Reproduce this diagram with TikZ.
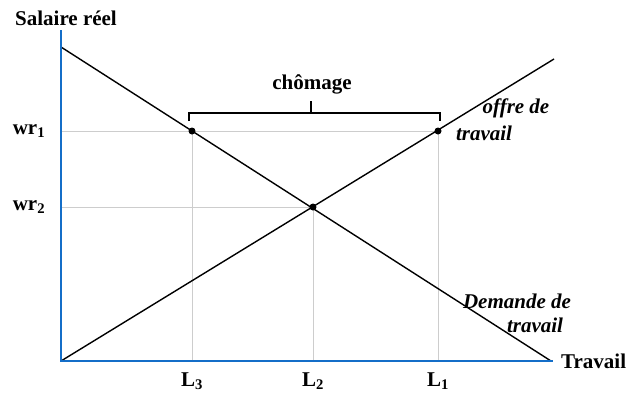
\documentclass[tikz,border=0pt]{standalone}
\usepackage{fontspec}
\setmainfont{Liberation Serif}

\definecolor{axisblue}{RGB}{20,110,200}
\definecolor{gridgray}{RGB}{205,205,205}

\tikzset{
    axisline/.style={draw=axisblue, line width=2.6pt},
    curveline/.style={draw=black, line width=1.4pt},
    guideline/.style={draw=gridgray, line width=0.9pt},
    bracketline/.style={draw=black, line width=1.9pt},
    lbl/.style={font=\fontsize{21}{23}\selectfont\bfseries, inner sep=0pt},
    curvelbl/.style={font=\fontsize{21}{23}\selectfont\bfseries\itshape, inner sep=0pt},
    dot/.style={circle, fill=black, inner sep=0pt, minimum size=7pt},
}

\begin{document}
\begin{tikzpicture}[x=1pt, y=-1pt]
        \useasboundingbox (0,0) rectangle (627,392);

        % Define the axes
        \coordinate (origin) at (61,361);
        \coordinate (ytop) at (61,30);
        \coordinate (xend) at (553,361);

        % Define the two curves
        \coordinate (dtop) at (61,47);
        \coordinate (dbot) at (551,361);
        \coordinate (sbot) at (61,361);
        \coordinate (stop) at (554,59);

        % Define the points on the curves and on the wage axis
        \coordinate (c3) at (192,131);
        \coordinate (c2) at (313,207);
        \coordinate (c1) at (438,131);
        \coordinate (wr1) at (61,131);
        \coordinate (wr2) at (61,207);

        % Guide lines
        \draw[guideline] (wr1) -- (c1);
        \draw[guideline] (wr2) -- (c2);
        \foreach \p in {c1, c2, c3} {
            \draw[guideline] (\p) -- (\p |- origin);
        }

        % Draw the demand and supply curves
        \draw[curveline] (dtop) -- (dbot);
        \draw[curveline] (sbot) -- (stop);

        % Draw the axes
        \draw[axisline] (ytop) -- (origin) -- (xend);

        % Dots
        \foreach \p in {c1, c2, c3} {
            \node[dot] (dot-\p) at (\p) {};
        }

        % Bracket for unemployment
        \coordinate (br-l) at (189,121);
        \coordinate (br-r) at (440,121);
        \coordinate (br-m) at (311,113);
        \draw[bracketline] (br-l) -- ++(0,-8) -| (br-r);
        \draw[bracketline] (br-m) -- ++(0,-12);
        \node[lbl] (chomage) at (312,84) {chômage};

        % Axis labels
        \node[lbl] (salaire) at (66,18) {Salaire réel};
        \node[lbl, anchor=west] (travail) at (561,361) {Travail};
        \node[lbl] (wr1-lbl) at (29,131) {wr\textsubscript{1}};
        \node[lbl] (wr2-lbl) at (29,207) {wr\textsubscript{2}};
        \node[lbl] (l3-lbl) at (192,381) {L\textsubscript{3}};
        \node[lbl] (l2-lbl) at (313,381) {L\textsubscript{2}};
        \node[lbl] (l1-lbl) at (438,381) {L\textsubscript{1}};

        % Labels for the curves
        \node[curvelbl] (offre) at (516,108) {offre de};
        \node[curvelbl] (offre-2) at (484,133) {travail};
        \node[curvelbl] (demande) at (517,301) {Demande de};
        \node[curvelbl] (demande-2) at (535,325) {travail};
\end{tikzpicture}
\end{document}
